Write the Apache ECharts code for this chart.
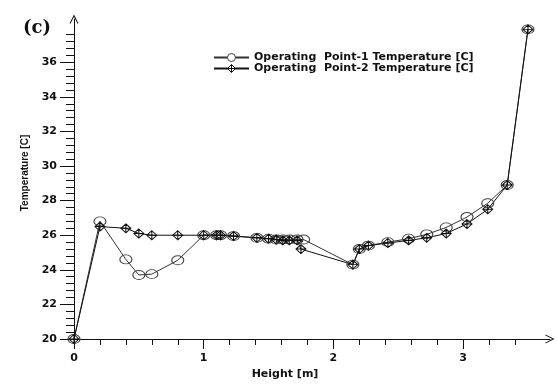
<!DOCTYPE html>
<html>
<head>
<meta charset="utf-8">
<script src="https://cdn.jsdelivr.net/npm/echarts@6/dist/echarts.min.js"></script>
<style>
  html, body { margin: 0; padding: 0; background: #fff; }
  #chart { width: 557px; height: 385px; }
</style>
</head>
<body>
<div id="chart"></div>
<script>
  // operating point 1 (circles)
  var height1 = [0, 0.2, 0.4, 0.5, 0.6, 0.8, 1.0, 1.1, 1.13, 1.23, 1.41, 1.5, 1.56, 1.61, 1.66, 1.72, 1.77,
    2.15, 2.2, 2.27, 2.42, 2.58, 2.72, 2.87, 3.03, 3.19, 3.34, 3.5];
  var temp1 = [20, 26.8, 24.6, 23.7, 23.75, 24.55, 26.0, 26.0, 26.0, 25.95, 25.85, 25.8, 25.75, 25.75, 25.75, 25.75, 25.75,
    24.3, 25.2, 25.4, 25.6, 25.8, 26.05, 26.45, 27.05, 27.85, 28.9, 37.9];
  // operating point 2 (diamonds)
  var height2 = [0, 0.2, 0.4, 0.5, 0.6, 0.8, 1.0, 1.1, 1.13, 1.23, 1.41, 1.5, 1.56, 1.61, 1.66, 1.72, 1.75,
    2.15, 2.2, 2.27, 2.42, 2.58, 2.72, 2.87, 3.03, 3.19, 3.34, 3.5];
  var temp2 = [20, 26.5, 26.4, 26.1, 26.0, 26.0, 26.0, 26.0, 26.0, 25.95, 25.85, 25.8, 25.75, 25.7, 25.7, 25.7, 25.2,
    24.3, 25.2, 25.4, 25.55, 25.7, 25.85, 26.1, 26.65, 27.5, 28.9, 37.9];

  var seriesNames = ['Operating  Point-1 Temperature [C]', 'Operating  Point-2 Temperature [C]'];
  var xLabels = [0, 1, 2, 3];
  var yLabels = [20, 22, 24, 26, 28, 30, 32, 34, 36];

  // minor ticks: every 0.2 m / every 0.4 C
  var xMinor = [];
  for (var i = 1; i <= 17; i++) xMinor.push(Math.round(i * 0.2 * 10) / 10);
  var yMinor = [];
  for (var j = 1; j <= 44; j++) yMinor.push(Math.round((20 + j * 0.4) * 10) / 10);

  function pairs(xs, ys) {
    var out = [];
    for (var k = 0; k < xs.length; k++) out.push([xs[k], ys[k]]);
    return out;
  }

  var arrow = 'path://M0,10 L5,0 L10,10 L8.8,10 L5,2.4 L1.2,10 Z';
  var crossDiamond = 'path://M5,0 L10,5 L5,10 L0,5 Z M5,0 L5,10 M0,5 L10,5';
  var labelFont = { fontFamily: 'DejaVu Sans', fontWeight: 'bold', fontSize: 11, color: '#111' };

  var chart = echarts.init(document.getElementById('chart'));
  chart.setOption({
    animation: false,
    backgroundColor: '#fff',
    title: {
      text: '(c)',
      left: 18,
      top: 14,
      textStyle: { fontFamily: 'DejaVu Serif', fontWeight: 'bold', fontSize: 18, color: '#111' }
    },
    legend: {
      orient: 'vertical',
      left: 208,
      top: 47,
      itemWidth: 35,
      itemHeight: 10,
      itemGap: 0,
      data: [
        { name: seriesNames[0], itemStyle: { color: '#fff', borderColor: '#444', borderWidth: 1 } },
        { name: seriesNames[1], itemStyle: { color: '#fff', borderColor: '#111', borderWidth: 1 } }
      ],
      textStyle: { fontFamily: 'DejaVu Sans', fontWeight: 'bold', fontSize: 11, lineHeight: 11, color: '#111' }
    },
    grid: { left: 74, right: 7, top: 19, bottom: 42 },
    xAxis: [
      {
        type: 'value',
        min: 0,
        max: 3.67,
        position: 'bottom',
        name: 'Height [m]',
        nameLocation: 'middle',
        nameGap: 30,
        nameTextStyle: { fontFamily: 'DejaVu Sans', fontWeight: 'bold', fontSize: 11, color: '#111', padding: [0, 54, 0, 0] },
        axisLine: { onZero: false, symbol: ['none', arrow], symbolSize: [11, 9], lineStyle: { color: '#111', width: 1 } },
        axisTick: { customValues: xLabels, length: 10, lineStyle: { color: '#111' } },
        axisLabel: Object.assign({ customValues: xLabels, margin: 14 }, labelFont),
        splitLine: { show: false }
      },
      {
        type: 'value',
        min: 0,
        max: 3.67,
        position: 'bottom',
        axisLine: { show: false, onZero: false },
        axisTick: { customValues: xMinor, length: 6, lineStyle: { color: '#111' } },
        axisLabel: { show: false },
        splitLine: { show: false }
      }
    ],
    yAxis: [
      {
        type: 'value',
        min: 20,
        max: 38.5,
        position: 'left',
        name: 'Temperature [C]',
        nameLocation: 'middle',
        nameGap: 44,
        nameTextStyle: { fontFamily: 'Liberation Sans', fontWeight: 'bold', fontSize: 10, color: '#111', padding: [0, 0, 0, 12] },
        axisLine: { onZero: false, symbol: ['none', arrow], symbolSize: [11, 9], lineStyle: { color: '#111', width: 1 } },
        axisTick: { customValues: yLabels, length: 14, lineStyle: { color: '#111' } },
        axisLabel: Object.assign({ customValues: yLabels, margin: 17 }, labelFont),
        splitLine: { show: false }
      },
      {
        type: 'value',
        min: 20,
        max: 38.5,
        position: 'left',
        axisLine: { show: false, onZero: false },
        axisTick: { customValues: yMinor, length: 8, lineStyle: { color: '#111' } },
        axisLabel: { show: false },
        splitLine: { show: false }
      }
    ],
    series: [
      {
        name: seriesNames[0],
        type: 'line',
        data: pairs(height1, temp1),
        symbol: 'circle',
        symbolSize: [12, 9],
        showAllSymbol: true,
        lineStyle: { color: '#333', width: 1 },
        itemStyle: { color: 'transparent', borderColor: '#444', borderWidth: 1 }
      },
      {
        name: seriesNames[1],
        type: 'line',
        data: pairs(height2, temp2),
        symbol: crossDiamond,
        symbolSize: [10, 9],
        showAllSymbol: true,
        lineStyle: { color: '#111', width: 1 },
        itemStyle: { color: 'transparent', borderColor: '#111', borderWidth: 1 }
      }
    ]
  });
</script>
</body>
</html>
